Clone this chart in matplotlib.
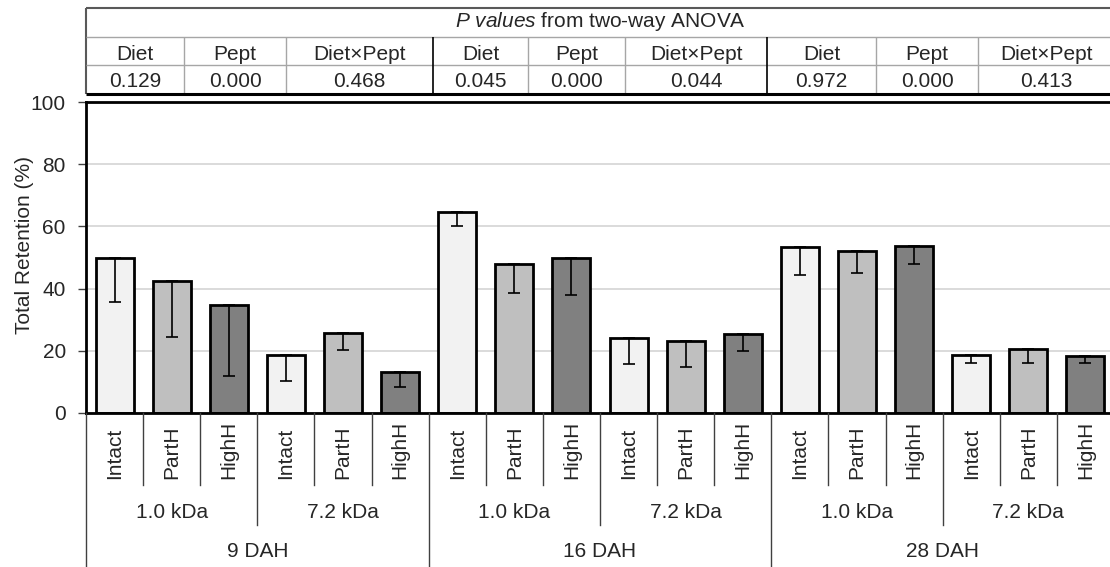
import matplotlib
matplotlib.use('Agg')
import matplotlib.pyplot as plt
from matplotlib.lines import Line2D
from matplotlib import transforms
import numpy as np

plt.rcParams['font.family'] = ['Liberation Sans', 'DejaVu Sans']
plt.rcParams['mathtext.fontset'] = 'custom'
plt.rcParams['mathtext.it'] = 'Liberation Sans:italic'
plt.rcParams['mathtext.rm'] = 'Liberation Sans'

# ---------------- data ----------------
ages = ['9 DAH', '16 DAH', '28 DAH']
sizes = ['1.0 kDa', '7.2 kDa']
peptides = ['Intact', 'PartH', 'HighH']
retention = [50.0, 42.5, 34.7, 18.6, 25.6, 13.3,
             64.6, 47.9, 49.9, 24.0, 23.3, 25.3,
             53.3, 52.0, 53.7, 18.8, 20.5, 18.3]
err_minus = [14.2, 18.2, 22.7, 8.2, 5.3, 4.8,
             4.4, 9.2, 12.1, 8.4, 8.4, 5.5,
             8.8, 7.1, 5.9, 2.6, 4.3, 2.1]
pval_headers = ['Diet', 'Pept', 'Diet×Pept']
pvalues = [['0.129', '0.000', '0.468'],
           ['0.045', '0.000', '0.044'],
           ['0.972', '0.000', '0.413']]
table_title = r'$\mathit{P\ values}$ from two-way ANOVA'
ylabel = 'Total Retention (%)'
peptide_colors = ['#F2F2F2', '#BFBFBF', '#808080']

# ---------------- layout helpers ----------------
W, H = 1110, 567
fig = plt.figure(figsize=(W / 100, H / 100), dpi=100)
fig.patch.set_facecolor('white')


def fx(px):
    return px / W


def fy(py):
    return 1 - py / H


TXT = '#262626'
FS = 15

AX_L, AX_R, AX_T, AX_B = 86, 1114, 102, 413
ax = fig.add_axes([fx(AX_L), fy(AX_B), (AX_R - AX_L) / W, (AX_B - AX_T) / H])

labels = [(a, s, p) for a in ages for s in sizes for p in peptides]
n = len(labels)
xpos = np.arange(n) + 0.5
colors = [peptide_colors[peptides.index(l[2])] for l in labels]

ax.bar(xpos, retention, width=0.665, color=colors, edgecolor='black',
       linewidth=2, zorder=2)
ax.errorbar(xpos, retention, yerr=[err_minus, np.zeros(n)], fmt='none',
            ecolor='black', elinewidth=1.2, capsize=4, capthick=1.2, zorder=3)

ax.set_xlim(0, n)
ax.set_ylim(0, 100)
ax.set_yticks(range(0, 101, 20))
ax.yaxis.grid(True, color='#D4D4D4', lw=1.2)
ax.set_axisbelow(True)
ax.set_xticks([])
for s in ['left', 'top', 'bottom']:
    ax.spines[s].set_linewidth(2)
    ax.spines[s].set_color('black')
ax.spines['right'].set_visible(False)
ax.tick_params(axis='y', length=6, width=1, labelsize=FS, color='#404040',
               labelcolor=TXT, pad=8.5)
ax.set_ylabel(ylabel, fontsize=FS, color=TXT, va='center', ha='center')
ax.yaxis.set_label_coords((25 - AX_L) / (AX_R - AX_L), (AX_B - 245.5) / (AX_B - AX_T))

# ---------------- hierarchical x labels ----------------
blend = transforms.blended_transform_factory(ax.transData, fig.transFigure)
for k in range(n + 1):
    if k % 6 == 0:
        yb = H
    elif k % 3 == 0:
        yb = 525
    else:
        yb = 485
    fig.add_artist(Line2D([k, k], [fy(AX_B), fy(yb)], transform=blend,
                          color='#404040', lw=1, clip_on=False))

for i, (a, s, p) in enumerate(labels):
    fig.text(xpos[i], fy(479), p, transform=blend, rotation=90, ha='center',
             va='bottom', fontsize=FS, color=TXT)
for j in range(len(ages) * len(sizes)):
    fig.text(j * 3 + 1.5, fy(518), sizes[j % 2], transform=blend, ha='center',
             va='baseline', fontsize=FS, color=TXT)
for j, a in enumerate(ages):
    fig.text(j * 6 + 3, fy(557), a, transform=blend, ha='center',
             va='baseline', fontsize=FS, color=TXT)

# ---------------- p-value table ----------------
T_TOP, R1, R2, T_BOT = 8, 37, 65, 94
col_edges = [86, 184, 286, 433, 528, 625, 767, 876, 978, 1114]


def line(x0, y0, x1, y1, color, lw):
    fig.add_artist(Line2D([fx(x0), fx(x1)], [fy(y0), fy(y1)], color=color,
                          lw=lw, solid_capstyle='butt'))


line(86, T_TOP, 1114, T_TOP, '#595959', 1.5)
line(86, T_TOP, 86, T_BOT, '#595959', 1.5)
line(86, R1, 1114, R1, '#A6A6A6', 1)
line(86, R2, 1114, R2, '#A6A6A6', 1)
for k, xe in enumerate(col_edges[1:-1], start=1):
    if k % 3 == 0:
        line(xe, R1, xe, T_BOT, 'black', 1.2)
    else:
        line(xe, R1, xe, T_BOT, '#A6A6A6', 1)
line(86, T_BOT, 1114, T_BOT, 'black', 2.2)

fig.text(fx(600), fy(27), table_title, ha='center', va='baseline',
         fontsize=FS, color=TXT)
for g in range(3):
    for c in range(3):
        k = g * 3 + c
        xc = (col_edges[k] + col_edges[k + 1]) / 2
        fig.text(fx(xc), fy(59.5), pval_headers[c], ha='center', va='baseline',
                 fontsize=FS, color=TXT)
        fig.text(fx(xc), fy(87), pvalues[g][c], ha='center', va='baseline',
                 fontsize=FS, color=TXT)

fig.savefig('out.png', dpi=100, facecolor='white')
